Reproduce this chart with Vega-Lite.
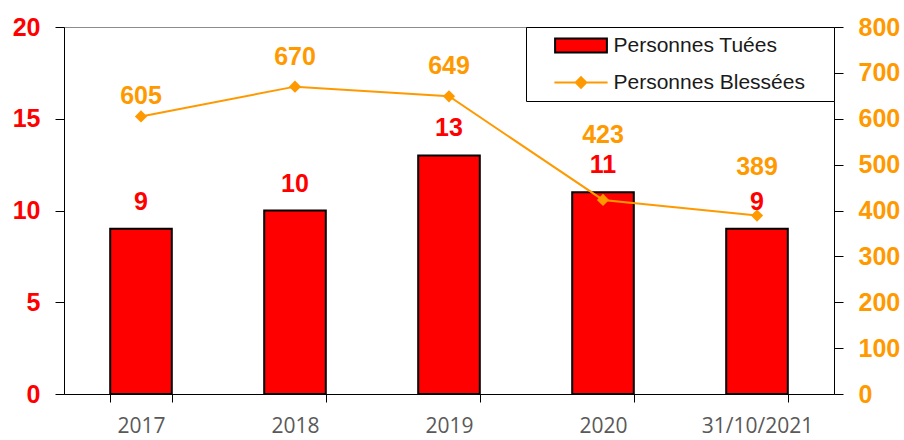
{
  "$schema": "https://vega.github.io/schema/vega-lite/v6.json",
  "width": 770,
  "height": 367,
  "autosize": {"type": "none"},
  "padding": {"left": 64, "top": 27, "right": 70, "bottom": 46},
  "background": "white",
  "config": {
    "view": {"stroke": "#8c8c8c", "strokeWidth": 1},
    "axis": {"grid": false, "domainColor": "black", "tickColor": "black", "domainWidth": 1, "tickWidth": 1, "title": null},
    "legend": {
      "orient": "top-right",
      "offset": 0,
      "title": null,
      "strokeColor": "black",
      "fillColor": "white",
      "padding": 8,
      "labelFont": "Liberation Sans",
      "labelFontSize": 21,
      "labelColor": "#1a1a1a",
      "rowPadding": 14,
      "symbolOffset": 36.5,
      "labelOffset": 22,
      "labelLimit": 400,
      "symbolSize": 196,
      "symbolStrokeWidth": 2,
      "symbolOpacity": 1
    }
  },
  "data": {
    "values": [
      {"year": "2017", "series": "Personnes Tuées", "value": 9},
      {"year": "2018", "series": "Personnes Tuées", "value": 10},
      {"year": "2019", "series": "Personnes Tuées", "value": 13},
      {"year": "2020", "series": "Personnes Tuées", "value": 11},
      {"year": "31/10/2021", "series": "Personnes Tuées", "value": 9},
      {"year": "2017", "series": "Personnes Blessées", "value": 605},
      {"year": "2018", "series": "Personnes Blessées", "value": 670},
      {"year": "2019", "series": "Personnes Blessées", "value": 649},
      {"year": "2020", "series": "Personnes Blessées", "value": 423},
      {"year": "31/10/2021", "series": "Personnes Blessées", "value": 389}
    ]
  },
  "encoding": {
    "x": {
      "field": "year",
      "type": "nominal",
      "sort": null,
      "scale": {"paddingInner": 0.6, "paddingOuter": 0.3},
      "axis": {
        "labelAngle": 0,
        "tickBand": "extent",
        "tickSize": 8,
        "labelPadding": 13,
        "labelFont": "Open Sans",
        "labelFontSize": 21,
        "labelColor": "#595959"
      }
    }
  },
  "layer": [
    {
      "encoding": {
        "y": {
          "field": "value",
          "type": "quantitative",
          "scale": {"domain": [0, 20], "nice": false},
          "axis": {
            "orient": "left",
            "values": [0, 5, 10, 15, 20],
            "tickSize": 9,
            "labelPadding": 15,
            "labelFont": "Liberation Sans",
            "labelFontWeight": "bold",
            "labelFontSize": 25,
            "labelColor": "#FF0000"
          }
        }
      },
      "layer": [
        {
          "transform": [{"filter": "datum.series === 'Personnes Tuées'"}],
          "mark": {"type": "bar", "stroke": "black", "strokeWidth": 2, "color": "#FF0000"},
          "encoding": {}
        },
        {
          "transform": [{"filter": "datum.series === 'Personnes Tuées'"}],
          "mark": {"type": "text", "baseline": "middle", "dy": -27, "font": "Liberation Sans", "fontWeight": "bold", "fontSize": 25, "color": "#FF0000"},
          "encoding": {"text": {"field": "value", "type": "quantitative"}}
        },
        {
          "mark": {"type": "point", "filled": true, "opacity": 0, "strokeWidth": 2, "clip": true},
          "encoding": {
            "color": {
              "field": "series",
              "type": "nominal",
              "scale": {"domain": ["Personnes Tuées", "Personnes Blessées"], "range": ["#FF0000", "#FF9900"]}
            },
            "stroke": {
              "field": "series",
              "type": "nominal",
              "scale": {"domain": ["Personnes Tuées", "Personnes Blessées"], "range": ["#000000", "#FF9900"]}
            },
            "shape": {
              "field": "series",
              "type": "nominal",
              "scale": {
                "domain": ["Personnes Tuées", "Personnes Blessées"],
                "range": ["M-3.7,-1H3.7V1H-3.7ZM34.4,0", "M-3.8,0H3.8M-0.75,0L0,-0.75L0.75,0L0,0.75ZM34.4,0"]
              }
            }
          }
        }
      ]
    },
    {
      "transform": [{"filter": "datum.series === 'Personnes Blessées'"}],
      "encoding": {
        "y": {
          "field": "value",
          "type": "quantitative",
          "scale": {"domain": [0, 800], "nice": false},
          "axis": {
            "orient": "right",
            "values": [0, 100, 200, 300, 400, 500, 600, 700, 800],
            "tickSize": 9,
            "labelPadding": 15,
            "labelFont": "Liberation Sans",
            "labelFontWeight": "bold",
            "labelFontSize": 25,
            "labelColor": "#FF9900"
          }
        }
      },
      "layer": [
        {
          "mark": {"type": "line", "strokeWidth": 2, "color": "#FF9900"},
          "encoding": {}
        },
        {
          "mark": {"type": "point", "shape": "diamond", "filled": true, "size": 150, "opacity": 1, "color": "#FF9900"},
          "encoding": {}
        },
        {
          "transform": [{"filter": "datum.year === '2017'"}],
          "mark": {"type": "text", "baseline": "middle", "dy": -20, "font": "Liberation Sans", "fontWeight": "bold", "fontSize": 25, "color": "#FF9900"},
          "encoding": {"text": {"field": "value", "type": "quantitative"}}
        },
        {
          "transform": [{"filter": "datum.year === '2018' || datum.year === '2019'"}],
          "mark": {"type": "text", "baseline": "middle", "dy": -30, "font": "Liberation Sans", "fontWeight": "bold", "fontSize": 25, "color": "#FF9900"},
          "encoding": {"text": {"field": "value", "type": "quantitative"}}
        },
        {
          "transform": [{"filter": "datum.year === '2020'"}],
          "mark": {"type": "text", "baseline": "middle", "dy": -65, "font": "Liberation Sans", "fontWeight": "bold", "fontSize": 25, "color": "#FF9900"},
          "encoding": {"text": {"field": "value", "type": "quantitative"}}
        },
        {
          "transform": [{"filter": "datum.year === '31/10/2021'"}],
          "mark": {"type": "text", "baseline": "middle", "dy": -49, "font": "Liberation Sans", "fontWeight": "bold", "fontSize": 25, "color": "#FF9900"},
          "encoding": {"text": {"field": "value", "type": "quantitative"}}
        }
      ]
    }
  ],
  "resolve": {"scale": {"y": "independent"}}
}
